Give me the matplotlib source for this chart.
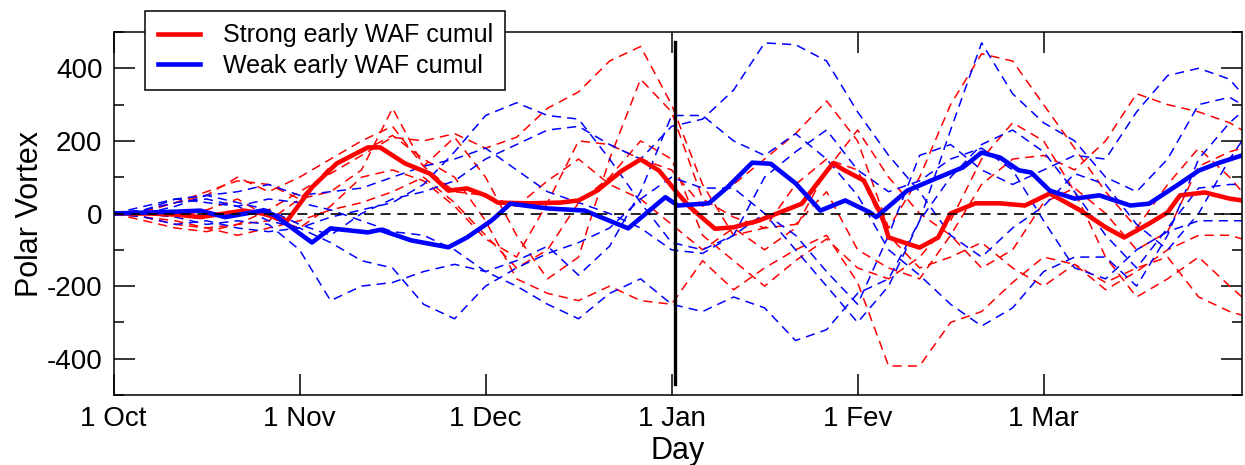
import numpy as np
import matplotlib
matplotlib.use("Agg")
import matplotlib.pyplot as plt
from matplotlib.ticker import MultipleLocator

plt.rcParams['font.family'] = ['Liberation Sans', 'DejaVu Sans']
plt.rcParams['axes.unicode_minus'] = False

# ---- data (days since 1 Oct) ----
tick_days = [0, 30, 60, 90, 120, 150]
tick_labels = ["1 Oct", "1 Nov", "1 Dec", "1 Jan", "1 Fev", "1 Mar"]
jan_day = 90.5

# thick composite means
strong_days = [0, 6, 10, 14, 21, 24, 28, 32, 36, 41, 43, 47, 51, 54, 57, 60, 62, 67, 72, 75,
               78, 82, 85, 88, 91, 93, 97, 100, 104, 107, 111, 113, 116, 118, 121, 124, 125,
               130, 133, 135, 139, 143, 147, 151, 156, 160, 163, 167, 170, 172, 176, 180, 182]
strong_mean = [0, 0, -3, -10, 8, 0, -20, 72, 138, 182, 182, 138, 110, 63, 69, 50, 30, 28, 30, 36,
               63, 118, 149, 118, 55, 17, -42, -38, -20, 0, 27, 72, 138, 118, 91, -10, -66,
               -94, -66, 0, 28, 28, 22, 55, 8, -38, -66, -28, 3, 50, 58, 41, 36]

weak_days = [0, 10, 14, 18, 24, 26, 32, 35, 41, 43, 48, 54, 57, 61, 64, 70, 76, 83, 89, 91,
             96, 99, 103, 106, 110, 114, 118, 122, 123, 128, 133, 137, 140, 143, 146, 148,
             151, 155, 159, 164, 167, 172, 175, 178, 182]
weak_mean = [0, 5, 8, -10, 8, -5, -80, -41, -52, -45, -74, -93, -66, -19, 27, 14, 8, -41, 45, 22,
             28, 72, 140, 137, 83, 8, 36, 3, -10, 63, 99, 127, 168, 154, 119, 113,
             63, 41, 50, 22, 27, 83, 118, 138, 160]

# individual members, every 5 days (last point = 182)
member_days = list(range(0, 181, 5)) + [182]

strong_members = [
    [0, -10, -20, -40, -30, 10, 60, 110, 160, 210, 200, 220, 180, 210, 290, 335, 420, 460, 300,
     80, -60, -40, 80, 150, 120, -60, -150, -120, -80, -150, -200, -140, -190, -150, -120, -230, -270, -280],
    [0, 5, 30, 60, 90, 80, 40, 60, 120, 290, 130, 210, 100, -60, -180, -120, 150, 370, 280,
     40, -10, -40, -30, 60, -100, -150, -180, -60, 80, 150, 160, 120, 200, 330, 300, 280, 250, 230],
    [0, -20, -40, -50, -30, -20, 40, 130, 170, 215, 150, 100, -20, -180, -220, -240, -200, -240, -250,
     -130, -210, -150, -100, -60, -190, -420, -420, -300, -270, -190, -120, -140, -210, -160, -100, -60, -60, -70],
    [0, 0, -10, 10, 40, -10, -40, 20, 100, 120, 90, 20, -70, -120, 30, 200, 190, 150, 120,
     20, 80, 150, 220, 310, 200, -40, 100, 300, 440, 420, 300, 180, 60, -40, 80, 180, 100, 60],
    [0, -10, -30, -40, -60, -40, -20, 10, 30, 60, 100, 30, -60, -150, -100, 30, 100, 200, 150,
     -60, -130, -200, -130, -70, -150, -180, -120, -20, 150, 250, 200, 60, -120, -230, -180, -120, -200, -230],
    [0, 10, 30, 50, 100, 60, 100, 150, 200, 240, 130, 60, 50, 20, 90, 150, 80, 40, -30,
     -100, -40, -100, -40, 120, 230, 100, 0, -60, -150, -100, 30, 70, 0, -100, -50, 130, 170, 180],
]

weak_members = [
    [0, 10, 40, 50, 30, 10, -30, -60, 0, 40, 60, 90, 150, 190, 230, 240, 190, 150, 240,
     260, 340, 470, 465, 420, 280, 160, 60, -60, -120, -40, 20, 110, 80, -30, -100, 0, 150, 200],
    [0, 10, 30, 40, 20, -20, -40, -10, 10, 30, 80, 170, 270, 305, 270, 260, 150, 30, -80,
     -100, -60, 100, 170, 230, 120, 60, 90, 150, 180, 120, -20, -150, -180, -100, -50, -20, -20, -20],
    [0, 0, -10, -30, -20, -30, -100, -240, -200, -190, -160, -140, -160, -130, -90, -170, -90, 60, 270,
     270, 200, 160, 220, 150, 50, -100, -170, -250, -310, -260, -160, -120, -120, -200, -60, 150, 250, 280],
    [0, -10, -30, -20, -40, -50, -40, -80, -130, -150, -250, -290, -200, -150, -110, -80, -40, 40, 100,
     70, 70, 0, -100, -200, -300, -200, -20, 100, 190, 230, 170, 60, -60, -150, -40, 70, 80, 80],
    [0, 20, 40, 30, 20, 40, 30, 10, -20, -50, -60, -100, -160, -200, -250, -290, -220, -180, -250,
     -270, -230, -260, -350, -320, -220, -180, -20, 230, 470, 330, 250, 200, 100, 60, 150, 300, 320, 300],
    [0, 0, 20, 50, 60, 80, 50, 60, 70, 100, 130, 150, 180, 120, 60, 30, 0, -40, -100,
     -110, -60, 0, -60, -160, -250, -60, 160, 190, 120, 80, 120, 160, 150, 280, 380, 400, 370, 330],
]

# ---- figure ----
fig = plt.figure(figsize=(12.45, 4.65), dpi=100)
ax = fig.add_axes([0.0912, 0.1505, 0.9064, 0.7807])

for m in strong_members:
    ax.plot(member_days, m, color="red", lw=1.1, dashes=(6, 4), dash_joinstyle="round")
for m in weak_members:
    ax.plot(member_days, m, color="blue", lw=1.1, dashes=(6, 4), dash_joinstyle="round")

ax.plot(strong_days, strong_mean, color="red", lw=3.3, label="Strong early WAF cumul",
        solid_joinstyle="round")
ax.plot(weak_days, weak_mean, color="blue", lw=3.3, label="Weak early WAF cumul",
        solid_joinstyle="round")

ax.axhline(0, color="black", lw=1.2, dashes=(6, 4), zorder=5)
ax.plot([jan_day, jan_day], [-470, 472], color="black", lw=2.4, zorder=6)

ax.set_xlim(0, 182)
ax.set_ylim(-500, 500)
ax.set_xticks(tick_days)
ax.set_xticklabels(tick_labels)
ax.yaxis.set_major_locator(MultipleLocator(200))
ax.yaxis.set_minor_locator(MultipleLocator(100))

ax.tick_params(which="both", direction="in", top=True, right=True, width=1.1, labelsize=20)
ax.tick_params(which="major", length=15)
ax.tick_params(which="minor", length=7.5)
ax.tick_params(axis="x", pad=8)
ax.tick_params(axis="y", pad=8)
for s in ax.spines.values():
    s.set_linewidth(1.1)

ax.set_xlabel("Day", fontsize=22, labelpad=3)
ax.set_ylabel("Polar Vortex", fontsize=22, labelpad=1)

leg = ax.legend(loc="upper left", bbox_to_anchor=(0.028, 1.058), borderaxespad=0,
                fontsize=18, fancybox=False, framealpha=1, edgecolor="black",
                handlelength=1.7, handletextpad=0.9, borderpad=0.5, labelspacing=0.25)
leg.get_frame().set_linewidth(1.1)
leg.set_zorder(10)

fig.savefig("out.png", dpi=100)
